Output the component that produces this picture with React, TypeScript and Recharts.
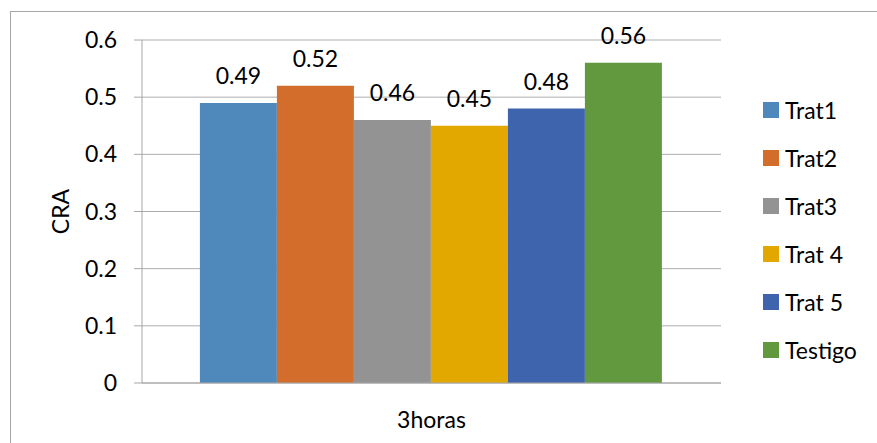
import React from 'react'
import { BarChart, Bar, XAxis, YAxis, CartesianGrid, Legend, LabelList } from 'recharts'

const categories = ['3horas']
const seriesNames = ['Trat1', 'Trat2', 'Trat3', 'Trat 4', 'Trat 5', 'Testigo']
const seriesValues = [0.49, 0.52, 0.46, 0.45, 0.48, 0.56]
const yTicks = [0, 0.1, 0.2, 0.3, 0.4, 0.5, 0.6]

const palette = ['#4f89bc', '#d36d2b', '#939393', '#e3a800', '#3d64ad', '#62993e']

const FONT = 'Lato, "Open Sans", sans-serif'
const FONT_SIZE = 23

const chartData = categories.map((name) => {
  const row: Record<string, string | number> = { name }
  seriesNames.forEach((_, i) => {
    row[`s${i}`] = seriesValues[i]
  })
  return row
})

// keep legend rows in series order (recharts sorts by name otherwise)
function LegendList({ payload }: any) {
  const items = [...(payload || [])].sort(
    (a: any, b: any) => seriesNames.indexOf(a.value) - seriesNames.indexOf(b.value)
  )
  return (
    <ul style={{ listStyle: 'none', margin: 0, padding: 0 }}>
      {items.map((entry: any) => (
        <li key={entry.value} style={{ height: 48, display: 'flex', alignItems: 'center' }}>
          <span style={{ width: 16, height: 16, background: entry.color, marginRight: 6, display: 'inline-block' }} />
          <span style={{ fontSize: FONT_SIZE, color: '#000', fontFamily: FONT }}>{entry.value}</span>
        </li>
      ))}
    </ul>
  )
}

function AxisTitle({ viewBox }: any) {
  const cy = viewBox.y + viewBox.height / 2
  return (
    <text
      x={60}
      y={cy}
      transform={`rotate(-90 60 ${cy})`}
      textAnchor="middle"
      dominantBaseline="central"
      fontSize={FONT_SIZE}
      fontFamily={FONT}
      fill="#000"
    >
      CRA
    </text>
  )
}

export default function App() {
  return (
    <div
      style={{
        position: 'fixed',
        left: 0,
        top: 0,
        width: 877,
        height: 443,
        overflow: 'hidden',
        background: '#fff',
        fontFamily: FONT,
      }}
    >
      <div
        style={{
          position: 'absolute',
          left: 10,
          top: 11,
          width: 1000,
          height: 600,
          border: '1px solid #a6a6a6',
        }}
      />
      <div style={{ position: 'absolute', left: 0, top: 0 }}>
        <BarChart
          width={877}
          height={443}
          data={chartData}
          margin={{ top: 40, right: 156, bottom: 0, left: 20 }}
          barCategoryGap="10%"
          barGap={0}
        >
          <CartesianGrid vertical={false} stroke="#adadad" />
          <XAxis
            dataKey="name"
            axisLine={{ stroke: '#a6a6a6' }}
            tickLine={false}
            tickSize={0}
            tickMargin={29}
            height={60}
            tick={{ fill: '#000', fontSize: FONT_SIZE, fontFamily: FONT }}
          />
          <YAxis
            width={122}
            domain={[0, 0.6]}
            ticks={yTicks}
            interval={0}
            axisLine={{ stroke: '#a6a6a6' }}
            tickLine={{ stroke: '#a6a6a6' }}
            tickSize={8}
            tickMargin={17}
            tick={{ fill: '#000', fontSize: FONT_SIZE, fontFamily: FONT }}
            label={<AxisTitle />}
          />
          <Legend
            layout="vertical"
            align="center"
            verticalAlign="middle"
            content={<LegendList />}
            wrapperStyle={{ left: 763, top: 86, width: 110 }}
          />
          {seriesNames.map((name, i) => (
            <Bar key={name} dataKey={`s${i}`} name={name} fill={palette[i]} isAnimationActive={false}>
              <LabelList
                dataKey={`s${i}`}
                position="top"
                offset={19}
                fill="#000"
                fontSize={FONT_SIZE}
                fontFamily={FONT}
              />
            </Bar>
          ))}
        </BarChart>
      </div>
    </div>
  )
}
